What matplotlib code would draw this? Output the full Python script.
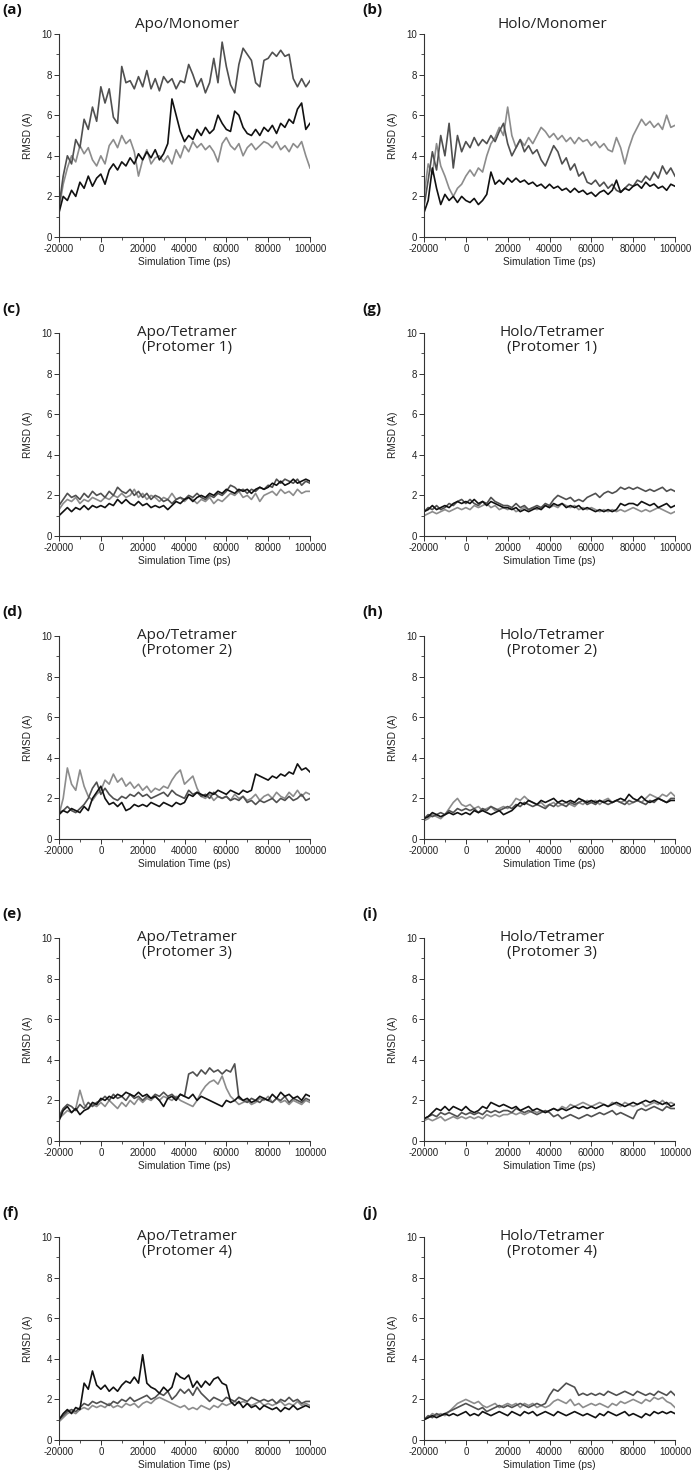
import matplotlib.pyplot as plt
import numpy as np
from matplotlib.ticker import MultipleLocator

plt.rcParams['axes.unicode_minus'] = False

# time axis (ps), one sample every 2000 ps
time_ps = np.arange(-20000, 100001, 2000)

# (a) Apo/Monomer
a_black = [1.2, 2.0, 1.8, 2.3, 2.0, 2.7, 2.4, 3.0, 2.5, 2.9,
           3.1, 2.6, 3.3, 3.6, 3.3, 3.7, 3.5, 3.9, 3.6, 4.1,
           3.8, 4.2, 3.9, 4.3, 3.8, 4.1, 4.6, 6.8, 6.0, 5.2,
           4.7, 5.0, 4.8, 5.3, 5.0, 5.4, 5.1, 5.3, 6.0, 5.6,
           5.3, 5.2, 6.2, 6.0, 5.4, 5.1, 5.0, 5.3, 5.0, 5.4,
           5.2, 5.5, 5.1, 5.6, 5.4, 5.8, 5.6, 6.3, 6.6, 5.3, 5.6]
a_dark = [1.5, 3.0, 4.0, 3.6, 4.8, 4.4, 5.8, 5.3, 6.4, 5.7,
          7.4, 6.6, 7.3, 5.9, 5.6, 8.4, 7.6, 7.7, 7.3, 7.9,
          7.4, 8.2, 7.3, 7.8, 7.2, 7.9, 7.6, 7.8, 7.3, 7.7,
          7.6, 8.5, 8.0, 7.4, 7.8, 7.1, 7.6, 8.8, 7.6, 9.6,
          8.4, 7.5, 7.1, 8.5, 9.3, 9.0, 8.7, 7.6, 7.4, 8.7,
          8.8, 9.1, 8.9, 9.2, 8.9, 9.0, 7.8, 7.4, 7.8, 7.4, 7.7]
a_light = [1.4, 2.6, 3.4, 4.0, 3.7, 4.5, 4.1, 4.4, 3.8, 3.5,
           4.0, 3.6, 4.5, 4.8, 4.4, 5.0, 4.6, 4.8, 4.2, 3.0,
           3.8, 4.3, 3.6, 3.9, 4.0, 3.7, 4.0, 3.6, 4.3, 3.9,
           4.5, 4.2, 4.7, 4.4, 4.6, 4.3, 4.5, 4.2, 3.7, 4.6,
           4.9, 4.5, 4.3, 4.6, 4.0, 4.4, 4.6, 4.3, 4.5, 4.7,
           4.6, 4.4, 4.7, 4.3, 4.5, 4.2, 4.6, 4.4, 4.7, 4.0, 3.4]

# (b) Holo/Monomer
b_black = [1.2, 1.8, 3.4, 2.4, 1.6, 2.1, 1.8, 2.0, 1.7, 2.0,
           1.8, 1.7, 1.9, 1.6, 1.8, 2.1, 3.2, 2.6, 2.8, 2.6,
           2.9, 2.7, 2.9, 2.7, 2.8, 2.6, 2.7, 2.5, 2.6, 2.4,
           2.6, 2.4, 2.5, 2.3, 2.4, 2.2, 2.4, 2.2, 2.3, 2.1,
           2.2, 2.0, 2.2, 2.3, 2.1, 2.3, 2.8, 2.2, 2.4, 2.3,
           2.5, 2.6, 2.4, 2.7, 2.5, 2.6, 2.4, 2.5, 2.3, 2.6, 2.5]
b_dark = [1.5, 2.8, 4.2, 3.3, 5.0, 4.0, 5.6, 3.4, 5.0, 4.2,
          4.7, 4.4, 4.9, 4.5, 4.8, 4.6, 5.0, 4.7, 5.2, 5.6,
          4.6, 4.0, 4.4, 4.8, 4.2, 4.5, 4.1, 4.3, 3.8, 3.5,
          4.0, 4.5, 4.2, 3.6, 3.9, 3.3, 3.6, 3.0, 3.2, 2.7,
          2.6, 2.8, 2.5, 2.7, 2.4, 2.6, 2.3, 2.2, 2.4, 2.6,
          2.5, 2.8, 2.7, 3.0, 2.8, 3.2, 2.9, 3.5, 3.1, 3.4, 3.0]
b_light = [2.0, 3.6, 3.1, 4.6, 3.5, 3.0, 2.4, 2.0, 2.4, 2.6,
           3.0, 3.3, 3.0, 3.4, 3.2, 4.0, 4.6, 4.9, 5.4, 5.0,
           6.4, 5.0, 4.4, 4.8, 4.5, 4.9, 4.6, 5.0, 5.4, 5.2,
           4.9, 5.1, 4.8, 5.0, 4.7, 4.9, 4.6, 4.9, 4.7, 4.8,
           4.5, 4.7, 4.4, 4.6, 4.3, 4.2, 4.9, 4.4, 3.6, 4.4,
           5.0, 5.4, 5.8, 5.5, 5.7, 5.4, 5.6, 5.3, 6.0, 5.4, 5.5]

# (c) Apo/Tetramer protomer 1
c_black = [1.0, 1.2, 1.4, 1.2, 1.4, 1.3, 1.5, 1.3, 1.5, 1.4,
           1.5, 1.4, 1.6, 1.5, 1.8, 1.6, 1.8, 1.6, 1.5, 1.7,
           1.5, 1.6, 1.4, 1.5, 1.4, 1.5, 1.3, 1.5, 1.7, 1.6,
           1.8, 1.9, 1.7, 1.9, 2.0, 1.9, 2.1, 2.0, 2.2, 2.1,
           2.3, 2.2, 2.1, 2.3, 2.2, 2.3, 2.1, 2.3, 2.4, 2.3,
           2.4, 2.6, 2.5, 2.7, 2.5, 2.6, 2.8, 2.6, 2.7, 2.8, 2.7]
c_dark = [1.5, 1.8, 2.1, 1.9, 2.0, 1.8, 2.1, 1.9, 2.2, 2.0,
          2.1, 1.9, 2.2, 2.0, 2.4, 2.2, 2.1, 2.3, 2.0, 2.2,
          1.9, 2.1, 1.8, 2.0, 1.9, 1.7, 1.8, 1.6, 1.8, 1.9,
          1.8, 2.0, 1.9, 2.1, 1.9, 1.8, 2.0, 1.9, 2.1, 2.0,
          2.2, 2.5, 2.4, 2.2, 2.3, 2.1, 2.3, 2.2, 2.4, 2.3,
          2.5, 2.4, 2.8, 2.6, 2.8, 2.7, 2.6, 2.8, 2.5, 2.7, 2.6]
c_light = [1.3, 1.6, 1.8, 1.7, 1.9, 1.6, 1.8, 1.7, 1.9, 1.8,
           1.7, 1.9, 1.8, 2.0, 1.9, 2.1, 1.9, 2.0, 2.3, 1.9,
           2.1, 1.8, 2.0, 1.9, 1.7, 1.9, 1.8, 2.1, 1.8, 1.9,
           1.7, 1.9, 1.8, 1.6, 1.8, 1.7, 1.9, 1.6, 1.8, 1.7,
           1.9, 2.1, 2.0, 2.2, 1.9, 2.0, 1.8, 2.1, 1.7, 2.0,
           2.1, 2.2, 2.0, 2.3, 2.1, 2.2, 2.0, 2.3, 2.1, 2.2, 2.2]

# (d) Apo/Tetramer protomer 2
d_black = [1.2, 1.4, 1.3, 1.5, 1.4, 1.3, 1.6, 1.4, 2.0, 2.3,
           2.6, 2.0, 1.7, 1.8, 1.6, 1.8, 1.4, 1.5, 1.7, 1.6,
           1.7, 1.6, 1.8, 1.7, 1.6, 1.8, 1.7, 1.6, 1.8, 1.7,
           1.8, 2.2, 2.1, 2.3, 2.2, 2.1, 2.3, 2.2, 2.4, 2.3,
           2.2, 2.4, 2.3, 2.2, 2.4, 2.3, 2.4, 3.2, 3.1, 3.0,
           2.9, 3.1, 3.0, 3.2, 3.1, 3.3, 3.2, 3.7, 3.4, 3.5, 3.3]
d_dark = [1.3, 1.4, 1.6, 1.4, 1.3, 1.5, 1.7, 2.0, 2.5, 2.8,
          2.2, 2.5, 2.2, 2.0, 1.9, 2.1, 2.0, 2.2, 2.1, 2.3,
          2.1, 2.2, 2.0, 2.1, 2.2, 2.3, 2.1, 2.4, 2.2, 2.1,
          2.0, 2.4, 2.2, 2.3, 2.1, 2.2, 2.0, 2.3, 2.1, 2.0,
          2.1, 1.9, 2.0, 1.9, 2.1, 1.8, 1.9, 1.7, 1.9, 1.8,
          1.9, 2.0, 1.8, 2.0, 1.9, 2.1, 1.9, 2.0, 2.2, 1.9, 2.0]
d_light = [1.2, 2.0, 3.5, 2.7, 2.4, 3.4, 2.6, 2.1, 1.9, 2.2,
           2.4, 2.9, 2.7, 3.2, 2.8, 3.0, 2.6, 2.8, 2.5, 2.7,
           2.4, 2.6, 2.3, 2.5, 2.4, 2.6, 2.5, 2.9, 3.2, 3.4,
           2.7, 2.9, 3.1, 2.5, 2.1, 2.0, 2.2, 1.9, 2.1, 2.0,
           2.1, 1.9, 2.2, 2.0, 2.1, 1.9, 2.0, 2.2, 1.9, 2.1,
           2.2, 2.0, 2.3, 2.1, 2.0, 2.3, 2.1, 2.4, 2.1, 2.3, 2.2]

# (e) Apo/Tetramer protomer 3
e_black = [1.0, 1.5, 1.7, 1.4, 1.6, 1.3, 1.5, 1.6, 1.9, 1.8,
           2.1, 2.0, 2.2, 2.1, 2.3, 2.2, 2.4, 2.3, 2.2, 2.4,
           2.2, 2.3, 2.1, 2.2, 2.0, 1.7, 2.1, 2.2, 2.0, 2.3,
           2.2, 2.1, 2.3, 2.0, 2.2, 2.1, 2.0, 1.9, 1.8, 1.7,
           2.0, 1.9, 2.0, 2.2, 2.0, 2.1, 1.9, 2.0, 2.2, 2.1,
           2.0, 2.3, 2.1, 2.4, 2.2, 2.3, 2.1, 2.2, 2.0, 2.3, 2.2]
e_dark = [1.2, 1.6, 1.8, 1.7, 1.5, 1.8, 1.6, 1.9, 1.7, 1.9,
          2.0, 2.2, 2.0, 2.3, 2.1, 2.2, 2.0, 2.3, 2.1, 2.2,
          2.0, 2.2, 2.1, 2.3, 2.2, 2.4, 2.2, 2.3, 2.1, 2.3,
          2.2, 3.3, 3.4, 3.2, 3.5, 3.3, 3.6, 3.4, 3.5, 3.3,
          3.5, 3.4, 3.8, 2.1, 2.0, 1.9, 2.1, 2.0, 1.9, 2.1,
          2.0, 1.9, 2.1, 2.0, 2.2, 1.9, 2.1, 2.0, 1.9, 2.1, 2.0]
e_light = [1.1, 1.3, 1.5, 1.4, 1.6, 2.5, 1.8, 1.6, 1.8, 1.7,
           1.9, 1.7, 2.0, 1.8, 1.6, 1.9, 1.7, 2.0, 1.8, 2.1,
           1.9, 2.1, 2.0, 2.2, 2.0, 2.2, 2.1, 2.0, 2.2, 2.0,
           1.9, 1.8, 1.7, 2.0, 2.4, 2.7, 2.9, 3.0, 2.8, 3.2,
           2.6, 2.2, 2.0, 1.8, 1.9, 2.0, 1.8, 1.9, 2.1, 2.0,
           2.2, 1.9, 2.1, 1.9, 2.0, 1.8, 2.0, 1.9, 1.8, 2.0, 1.9]

# (f) Apo/Tetramer protomer 4
f_black = [1.0, 1.3, 1.5, 1.3, 1.6, 1.5, 2.8, 2.5, 3.4, 2.7,
           2.5, 2.7, 2.4, 2.6, 2.4, 2.7, 2.9, 2.8, 3.1, 2.8,
           4.2, 2.8, 2.6, 2.5, 2.3, 2.6, 2.4, 2.6, 3.3, 3.1,
           3.0, 3.2, 2.6, 2.9, 2.6, 2.9, 2.7, 3.0, 3.1, 2.8,
           2.7, 1.9, 1.7, 1.9, 1.6, 1.8, 1.6, 1.7, 1.5, 1.7,
           1.6, 1.5, 1.6, 1.4, 1.6, 1.5, 1.7, 1.5, 1.6, 1.7, 1.6]
f_dark = [1.0, 1.2, 1.4, 1.5, 1.4, 1.6, 1.8, 1.7, 1.9, 1.8,
          1.9, 1.8, 1.7, 1.9, 1.8, 2.0, 1.9, 2.1, 1.9, 2.0,
          2.1, 2.2, 2.0, 2.1, 2.3, 2.2, 2.4, 2.0, 2.2, 2.5,
          2.3, 2.5, 2.2, 2.6, 2.3, 2.1, 1.9, 2.1, 2.0, 1.9,
          2.1, 2.0, 1.9, 2.1, 2.0, 1.9, 2.1, 2.0, 1.9, 2.0,
          1.9, 2.0, 1.8, 2.0, 1.9, 2.1, 1.9, 2.0, 1.8, 1.9, 1.9]
f_light = [0.9, 1.1, 1.3, 1.4, 1.3, 1.5, 1.6, 1.5, 1.7, 1.6,
           1.7, 1.6, 1.8, 1.6, 1.7, 1.6, 1.8, 1.7, 1.8, 1.6,
           1.8, 1.9, 1.8, 2.0, 2.1, 2.0, 1.9, 1.8, 1.7, 1.6,
           1.7, 1.5, 1.6, 1.5, 1.7, 1.6, 1.5, 1.7, 1.6, 1.8,
           1.7, 1.8, 1.9, 1.8, 1.9, 1.8, 1.7, 1.8, 1.9, 1.7,
           1.8, 1.7, 1.8, 1.9, 1.7, 1.8, 1.7, 1.9, 1.7, 1.8, 1.7]

# (g) Holo/Tetramer protomer 1
g_black = [1.2, 1.3, 1.5, 1.3, 1.4, 1.5, 1.4, 1.6, 1.7, 1.6,
           1.7, 1.6, 1.8, 1.6, 1.7, 1.5, 1.7, 1.6, 1.5, 1.4,
           1.4, 1.3, 1.4, 1.2, 1.3, 1.2, 1.3, 1.4, 1.3, 1.5,
           1.4, 1.6, 1.5, 1.6, 1.4, 1.5, 1.4, 1.5, 1.3, 1.4,
           1.3, 1.2, 1.3, 1.2, 1.3, 1.2, 1.3, 1.6, 1.5, 1.6,
           1.6, 1.5, 1.7, 1.6, 1.5, 1.6, 1.4, 1.5, 1.6, 1.4, 1.5]
g_dark = [1.2, 1.4, 1.3, 1.5, 1.3, 1.4, 1.6, 1.5, 1.7, 1.8,
          1.6, 1.8, 1.6, 1.5, 1.7, 1.6, 1.9, 1.7, 1.6, 1.5,
          1.5, 1.4, 1.6, 1.4, 1.5, 1.3, 1.4, 1.5, 1.4, 1.6,
          1.5, 1.8, 2.0, 1.9, 1.8, 1.9, 1.7, 1.8, 1.7, 1.9,
          2.0, 2.1, 1.9, 2.1, 2.2, 2.1, 2.2, 2.4, 2.3, 2.4,
          2.3, 2.4, 2.3, 2.2, 2.3, 2.2, 2.3, 2.4, 2.2, 2.3, 2.2]
g_light = [1.0, 1.1, 1.2, 1.1, 1.2, 1.3, 1.2, 1.3, 1.4, 1.3,
           1.4, 1.3, 1.5, 1.4, 1.5, 1.6, 1.4, 1.5, 1.3, 1.4,
           1.3, 1.4, 1.2, 1.3, 1.4, 1.3, 1.4, 1.3, 1.4, 1.5,
           1.4, 1.5, 1.4, 1.6, 1.5, 1.4, 1.5, 1.3, 1.4, 1.3,
           1.4, 1.3, 1.2, 1.3, 1.2, 1.3, 1.2, 1.3, 1.2, 1.3,
           1.4, 1.3, 1.2, 1.3, 1.2, 1.3, 1.4, 1.3, 1.2, 1.1, 1.2]

# (h) Holo/Tetramer protomer 2
h_black = [1.0, 1.1, 1.3, 1.2, 1.1, 1.2, 1.3, 1.2, 1.3, 1.2,
           1.3, 1.2, 1.4, 1.3, 1.4, 1.3, 1.2, 1.3, 1.4, 1.2,
           1.3, 1.4, 1.6, 1.8, 1.7, 1.9, 1.8, 1.7, 1.9, 1.8,
           1.9, 2.0, 1.8, 1.9, 1.8, 1.9, 1.8, 2.0, 1.9, 1.8,
           1.9, 1.8, 1.9, 1.8, 1.9, 1.8, 1.9, 2.0, 1.9, 2.2,
           2.0, 1.9, 2.1, 1.9, 1.8, 1.9, 2.0, 1.9, 1.8, 1.9, 1.9]
h_dark = [1.0, 1.2, 1.1, 1.2, 1.3, 1.2, 1.4, 1.3, 1.5, 1.4,
          1.5, 1.4, 1.5, 1.3, 1.5, 1.4, 1.6, 1.5, 1.4, 1.5,
          1.6, 1.5, 1.7, 1.6, 1.8, 1.7, 1.6, 1.7, 1.6, 1.5,
          1.7, 1.6, 1.8, 1.7, 1.6, 1.8, 1.7, 1.8, 1.9, 1.7,
          1.8, 1.7, 1.9, 1.8, 1.7, 1.8, 1.9, 1.8, 1.7, 1.9,
          1.8, 1.9, 1.8, 1.7, 1.9, 1.8, 2.0, 1.9, 1.8, 2.0, 2.0]
h_light = [0.9, 1.0, 1.2, 1.1, 1.0, 1.2, 1.5, 1.8, 2.0, 1.7,
           1.6, 1.7, 1.5, 1.6, 1.4, 1.5, 1.6, 1.4, 1.5, 1.6,
           1.5, 1.7, 2.0, 1.9, 2.1, 1.9, 1.8, 1.7, 1.8, 1.6,
           1.7, 1.8, 1.6, 1.7, 1.8, 1.7, 1.6, 1.8, 1.7, 1.9,
           1.8, 1.9, 1.7, 1.9, 2.0, 1.8, 1.9, 1.8, 1.9, 1.7,
           1.8, 1.9, 1.8, 2.0, 2.2, 2.1, 2.0, 2.2, 2.1, 2.3, 2.1]

# (i) Holo/Tetramer protomer 3
i_black = [1.1, 1.2, 1.4, 1.6, 1.5, 1.7, 1.5, 1.7, 1.6, 1.5,
           1.7, 1.5, 1.4, 1.5, 1.7, 1.6, 1.9, 1.8, 1.7, 1.8,
           1.7, 1.6, 1.7, 1.5, 1.6, 1.7, 1.5, 1.6, 1.5, 1.4,
           1.5, 1.6, 1.5, 1.6, 1.5, 1.6, 1.7, 1.6, 1.7, 1.6,
           1.7, 1.6, 1.7, 1.8, 1.7, 1.8, 1.9, 1.8, 1.7, 1.8,
           1.9, 1.8, 1.9, 2.0, 1.9, 2.0, 1.9, 1.8, 1.9, 1.7, 1.8]
i_dark = [1.1, 1.2, 1.3, 1.2, 1.4, 1.3, 1.4, 1.3, 1.2, 1.4,
          1.3, 1.4, 1.3, 1.4, 1.3, 1.5, 1.4, 1.5, 1.4, 1.5,
          1.5, 1.4, 1.6, 1.5, 1.4, 1.5, 1.4, 1.3, 1.4, 1.5,
          1.4, 1.2, 1.3, 1.1, 1.2, 1.3, 1.2, 1.1, 1.2, 1.3,
          1.2, 1.3, 1.4, 1.3, 1.4, 1.5, 1.3, 1.4, 1.3, 1.2,
          1.1, 1.5, 1.6, 1.5, 1.6, 1.7, 1.6, 1.5, 1.7, 1.6, 1.6]
i_light = [1.0, 1.1, 1.0, 1.1, 1.2, 1.0, 1.1, 1.2, 1.1, 1.2,
           1.1, 1.2, 1.1, 1.2, 1.1, 1.3, 1.2, 1.3, 1.2, 1.3,
           1.3, 1.4, 1.3, 1.4, 1.3, 1.4, 1.5, 1.4, 1.5, 1.4,
           1.5, 1.6, 1.5, 1.7, 1.6, 1.8, 1.7, 1.8, 1.9, 1.8,
           1.7, 1.8, 1.9, 1.8, 1.7, 1.9, 1.8, 1.7, 1.9, 1.8,
           1.7, 1.8, 1.9, 1.7, 1.8, 1.9, 1.8, 2.0, 1.8, 1.9, 1.8]

# (j) Holo/Tetramer protomer 4
j_black = [1.0, 1.1, 1.2, 1.1, 1.2, 1.3, 1.2, 1.3, 1.2, 1.3,
           1.4, 1.2, 1.3, 1.2, 1.4, 1.3, 1.2, 1.3, 1.4, 1.3,
           1.2, 1.4, 1.3, 1.2, 1.4, 1.3, 1.4, 1.2, 1.3, 1.4,
           1.3, 1.2, 1.4, 1.3, 1.2, 1.3, 1.4, 1.3, 1.2, 1.3,
           1.2, 1.1, 1.3, 1.2, 1.4, 1.3, 1.2, 1.3, 1.4, 1.2,
           1.3, 1.2, 1.1, 1.3, 1.2, 1.4, 1.3, 1.4, 1.3, 1.4, 1.3]
j_dark = [1.0, 1.2, 1.1, 1.3, 1.2, 1.3, 1.4, 1.5, 1.6, 1.7,
          1.8, 1.7, 1.6, 1.5, 1.6, 1.4, 1.5, 1.6, 1.7, 1.6,
          1.7, 1.6, 1.7, 1.8, 1.7, 1.6, 1.7, 1.8, 1.7, 1.8,
          2.2, 2.5, 2.4, 2.6, 2.8, 2.7, 2.6, 2.2, 2.3, 2.2,
          2.3, 2.2, 2.3, 2.2, 2.4, 2.3, 2.2, 2.3, 2.4, 2.3,
          2.2, 2.4, 2.3, 2.2, 2.3, 2.2, 2.4, 2.3, 2.2, 2.4, 2.2]
j_light = [1.0, 1.1, 1.3, 1.2, 1.3, 1.2, 1.4, 1.6, 1.8, 1.9,
           2.0, 1.9, 1.8, 1.9, 1.7, 1.6, 1.7, 1.8, 1.6, 1.7,
           1.8, 1.7, 1.8, 1.6, 1.8, 1.7, 1.8, 1.6, 1.7, 1.6,
           1.7, 1.9, 2.0, 1.9, 1.8, 2.0, 1.7, 1.8, 1.6, 1.7,
           1.8, 1.7, 1.8, 1.7, 1.6, 1.8, 1.7, 1.9, 1.8, 1.9,
           2.0, 1.9, 1.8, 2.0, 1.9, 2.1, 2.0, 2.1, 1.9, 1.8, 1.6]

panel_letters = ['a', 'b', 'c', 'g', 'd', 'h', 'e', 'i', 'f', 'j']
panel_titles = ['Apo/Monomer', 'Holo/Monomer',
                'Apo/Tetramer\n(Protomer 1)', 'Holo/Tetramer\n(Protomer 1)',
                'Apo/Tetramer\n(Protomer 2)', 'Holo/Tetramer\n(Protomer 2)',
                'Apo/Tetramer\n(Protomer 3)', 'Holo/Tetramer\n(Protomer 3)',
                'Apo/Tetramer\n(Protomer 4)', 'Holo/Tetramer\n(Protomer 4)']
panel_series = [(a_light, a_dark, a_black), (b_light, b_dark, b_black),
                (c_light, c_dark, c_black), (g_light, g_dark, g_black),
                (d_light, d_dark, d_black), (h_light, h_dark, h_black),
                (e_light, e_dark, e_black), (i_light, i_dark, i_black),
                (f_light, f_dark, f_black), (j_light, j_dark, j_black)]
trace_colors = ['#8c8c8c', '#505050', '#111111']

W, H = 693, 1476
fig = plt.figure(figsize=(W / 100, H / 100), dpi=100)

col_left = [59, 424]
row_top = [34, 333, 636, 938, 1237]
ax_w, ax_h = 251, 203

tick_font = 'Liberation Sans'
title_font = 'Open Sans'

for k in range(10):
    r, c = k // 2, k % 2
    x0 = col_left[c]
    y0 = row_top[r]
    ax = fig.add_axes([x0 / W, 1 - (y0 + ax_h) / H, ax_w / W, ax_h / H])

    for ys, col in zip(panel_series[k], trace_colors):
        ax.plot(time_ps, ys, color=col, lw=1.2)

    ax.set_xlim(-20000, 100000)
    ax.set_ylim(0, 10)
    ax.xaxis.set_major_locator(MultipleLocator(20000))
    ax.xaxis.set_minor_locator(MultipleLocator(10000))
    ax.yaxis.set_major_locator(MultipleLocator(2))
    ax.yaxis.set_minor_locator(MultipleLocator(1))
    ax.spines['top'].set_visible(False)
    ax.spines['right'].set_visible(False)
    for s in ('left', 'bottom'):
        ax.spines[s].set_linewidth(0.8)
        ax.spines[s].set_color('#333333')
    ax.tick_params(which='major', direction='out', length=3.5, width=0.7,
                   colors='#333333', labelsize=7, pad=1.5)
    ax.tick_params(which='minor', direction='out', length=2, width=0.6,
                   colors='#333333')
    for lab in ax.get_xticklabels() + ax.get_yticklabels():
        lab.set_fontfamily(tick_font)
        lab.set_color('#222222')

    ax.set_xlabel('Simulation Time (ps)', fontsize=7.3, family=tick_font,
                  color='#222222', labelpad=2)
    ax.set_ylabel('RMSD (A)', fontsize=7.3, family=tick_font,
                  color='#222222', labelpad=6)

    title = panel_titles[k]
    if '\n' in title:
        ax.text(0.51, 1.04, title, transform=ax.transAxes, ha='center',
                va='top', fontsize=11, family=title_font, linespacing=1.05,
                color='#222222')
    else:
        ax.text(0.51, 1.045, title, transform=ax.transAxes, ha='center',
                va='center', fontsize=11, family=title_font, color='#222222')

    lx = 2 if c == 0 else 362
    fig.text(lx / W, 1 - (y0 - 24) / H, '(%s)' % panel_letters[k],
             fontsize=11, fontweight='bold', family=title_font,
             ha='left', va='center', color='#111111')

fig.savefig('out.png', dpi=100)
